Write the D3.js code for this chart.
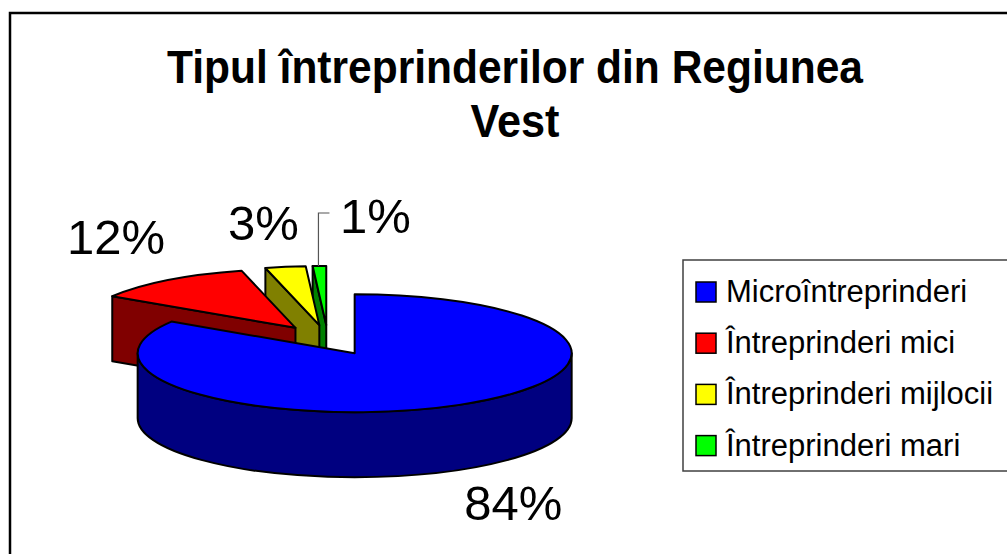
<!DOCTYPE html>
<html><head><meta charset="utf-8">
<script src="https://cdn.jsdelivr.net/npm/d3@7"></script>
<style>body{margin:0;background:#fff}svg{display:block}text{font-family:"Liberation Sans",Arial,Helvetica,sans-serif}</style>
</head><body><svg id="c" width="1007" height="554"></svg>
<script>
// ---- data ----
const categories = ["Microîntreprinderi", "Întreprinderi mici", "Întreprinderi mijlocii", "Întreprinderi mari"];
const values = [84, 12, 3, 1];
const valueLabels = ["84%", "12%", "3%", "1%"];
const titleLines = ["Tipul întreprinderilor din Regiunea", "Vest"];
const topColors = ["#0000FF", "#FF0000", "#FFFF00", "#00FF00"];
const sideColors = ["#000080", "#800000", "#808000", "#008000"];

// ---- layout ----
const W = 1007, H = 554;
const cx = 328, cy = 340, rx = 217, ry = 59, depth = 65, explode = 0.255;
// label baseline offsets (px) from the slice's rim point at mid angle
const labelOffsets = [[54, 50], [-52, -26], [-22, -27], [56, -33]];

const svg = d3.select("#c");
svg.append("rect").attr("width", W).attr("height", H).attr("fill", "#fff");
svg.append("rect").attr("x", 10).attr("y", 13).attr("width", 1030).attr("height", 580)
  .attr("fill", "none").attr("stroke", "#000").attr("stroke-width", 2.5);

// title
const titleLen = [696, 89];
titleLines.forEach((t, i) => {
  svg.append("text").attr("x", 515).attr("y", 83 + i * 54)
    .attr("text-anchor", "middle").attr("font-weight", "bold").attr("font-size", 46)
    .attr("textLength", titleLen[i]).attr("lengthAdjust", "spacingAndGlyphs")
    .attr("fill", "#000").text(t);
});

// ---- 3D pie ----
const xs = d3.scaleLinear().domain([-1, 1]).range([cx - rx, cx + rx]);
const ys = d3.scaleLinear().domain([-1, 1]).range([cy - ry, cy + ry]);
const arcs = d3.pie().sort(null).value(d => d)(values).map((d, i) => Object.assign(d, {i, mid: (d.startAngle + d.endAngle) / 2}));

function P(a, r, m, dz) {
  return [xs(r * Math.sin(a) + explode * Math.sin(m)), ys(-r * Math.cos(a) - explode * Math.cos(m)) + dz];
}
const fmt = p => p[0].toFixed(2) + "," + p[1].toFixed(2);

function topPath(d) {
  const c = P(0, 0, d.mid, 0), p0 = P(d.startAngle, 1, d.mid, 0), p1 = P(d.endAngle, 1, d.mid, 0);
  const large = (d.endAngle - d.startAngle) > Math.PI ? 1 : 0;
  return `M${fmt(c)}L${fmt(p0)}A${rx},${ry} 0 ${large} 1 ${fmt(p1)}Z`;
}
function sidePath(d) {
  const s = Math.max(d.startAngle, Math.PI / 2), e = Math.min(d.endAngle, 3 * Math.PI / 2);
  if (s >= e) return null;
  const large = (e - s) > Math.PI ? 1 : 0;
  const a = P(s, 1, d.mid, 0), b = P(e, 1, d.mid, 0), bb = P(e, 1, d.mid, depth), ab = P(s, 1, d.mid, depth);
  return `M${fmt(a)}A${rx},${ry} 0 ${large} 1 ${fmt(b)}L${fmt(bb)}A${rx},${ry} 0 ${large} 0 ${fmt(ab)}Z`;
}
function wallPath(d, a) {
  const c = P(0, 0, d.mid, 0), r = P(a, 1, d.mid, 0), rb = P(a, 1, d.mid, depth), cb = P(0, 0, d.mid, depth);
  return `M${fmt(c)}L${fmt(r)}L${fmt(rb)}L${fmt(cb)}Z`;
}

const order = arcs.slice().sort((a, b) => (-Math.cos(a.mid)) - (-Math.cos(b.mid)));
const pie = svg.append("g").attr("stroke", "#000").attr("stroke-width", 2).attr("stroke-linejoin", "round");
order.forEach(d => {
  const g = pie.append("g");
  if (Math.sin(d.startAngle) < -1e-6) g.append("path").attr("d", wallPath(d, d.startAngle)).attr("fill", sideColors[d.i]);
  if (Math.sin(d.endAngle) > 1e-6) g.append("path").attr("d", wallPath(d, d.endAngle)).attr("fill", sideColors[d.i]);
  const sp = sidePath(d);
  if (sp) g.append("path").attr("d", sp).attr("fill", sideColors[d.i]);
  g.append("path").attr("d", topPath(d)).attr("fill", topColors[d.i]);
});

// ---- value labels ----
arcs.forEach(d => {
  const front = Math.cos(d.mid) < 0;
  const rim = P(d.mid, 1, d.mid, front ? depth : 0);
  const o = labelOffsets[d.i];
  const lx = rim[0] + o[0], ly = rim[1] + o[1];
  svg.append("text").attr("x", lx).attr("y", ly)
    .attr("text-anchor", "middle").attr("font-size", 49).attr("fill", "#000")
    .text(valueLabels[d.i]);
  if (d.i === 3) {
    svg.append("path").attr("d", `M${rim[0] - 1},${rim[1]}V${ly - 20}H${rim[0] + 10}`)
      .attr("fill", "none").attr("stroke", "#555").attr("stroke-width", 1.2);
  }
});

// ---- legend ----
const leg = svg.append("g");
leg.append("rect").attr("x", 683).attr("y", 260).attr("width", 400).attr("height", 211)
  .attr("fill", "#fff").attr("stroke", "#404040").attr("stroke-width", 1.5);
categories.forEach((c, i) => {
  leg.append("rect").attr("x", 696).attr("y", 282 + i * 51.2).attr("width", 20).attr("height", 20)
    .attr("fill", topColors[i]).attr("stroke", "#000").attr("stroke-width", 1.5);
  leg.append("text").attr("x", 726).attr("y", 302 + i * 51.2).attr("font-size", 31).attr("fill", "#000").text(c);
});
</script>
</body></html>
